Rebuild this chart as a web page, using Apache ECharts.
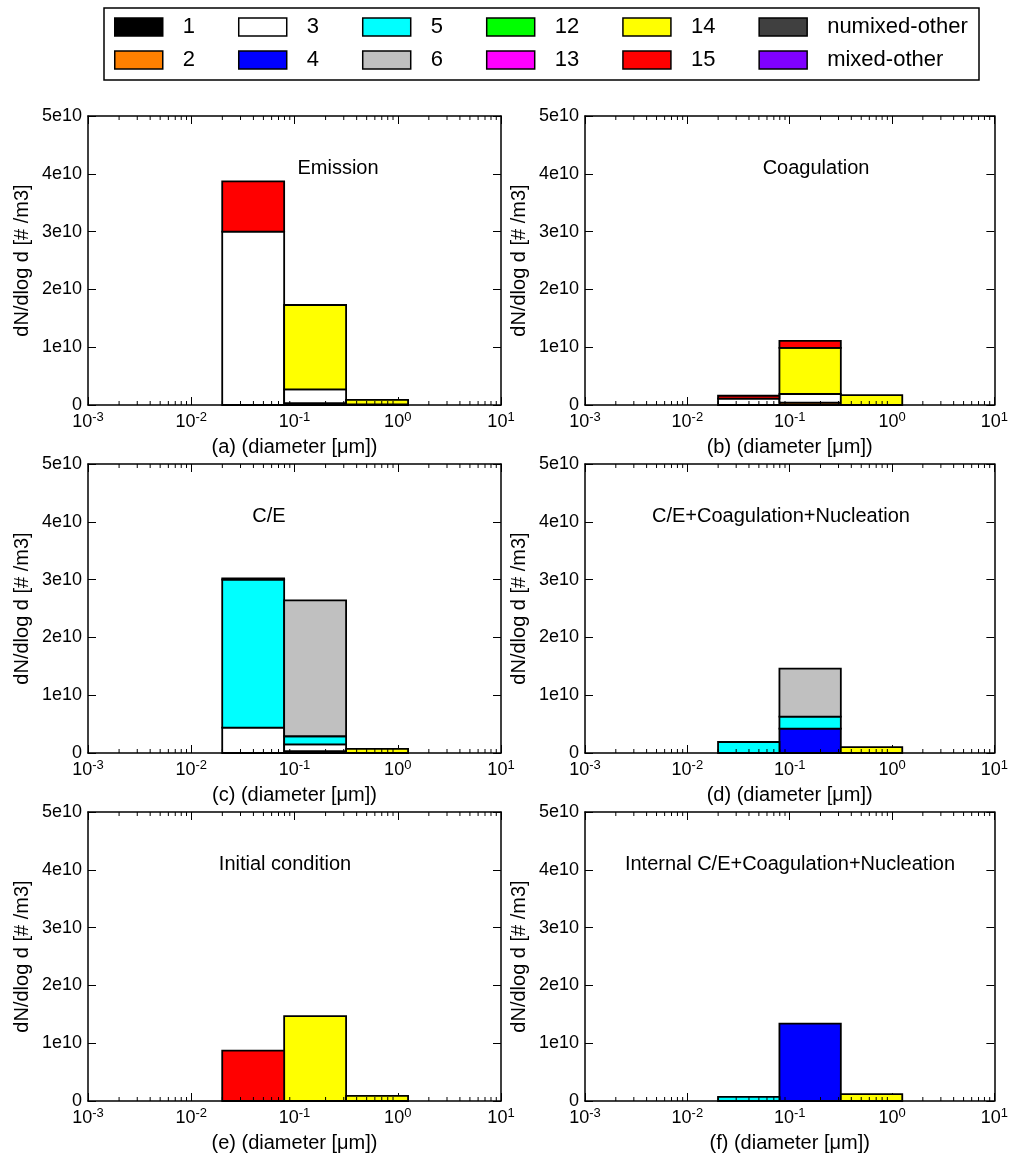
<!DOCTYPE html>
<html>
<head>
<meta charset="utf-8">
<script src="https://cdn.jsdelivr.net/npm/echarts@6/dist/echarts.min.js"></script>
<style>html,body{margin:0;padding:0;background:#fff;}#c{width:1011px;height:1160px;}</style>
</head>
<body>
<div id="c"></div>
<script>
// ---- data ----
const binEdges = [0.01995, 0.0794, 0.316, 1.259];           // diameter bin edges [μm]
const speciesNames = ['1','2','3','4','5','6','12','13','14','15','numixed-other','mixed-other'];
const speciesColors = ['#000000','#ff8000','#ffffff','#0000ff','#00ffff','#c0c0c0','#00ff00','#ff00ff','#ffff00','#ff0000','#404040','#8000ff'];
const legendRow1 = ['1','3','5','12','14','numixed-other'];
const legendRow2 = ['2','4','6','13','15','mixed-other'];
const yTicks = [0, 1e10, 2e10, 3e10, 4e10, 5e10];
const panelTitles = ['Emission','Coagulation','C/E','C/E+Coagulation+Nucleation','Initial condition','Internal C/E+Coagulation+Nucleation'];
const panelXNames = ['(a) (diameter [μm])','(b) (diameter [μm])','(c) (diameter [μm])','(d) (diameter [μm])','(e) (diameter [μm])','(f) (diameter [μm])'];
// values per species per bin, in units of 1e10 #/m3
const emission    = {'1':[0,0.03,0], '3':[3.0,0.24,0.01], '14':[0,1.46,0.08], '15':[0.87,0,0]};
const coagulation = {'2':[0,0.04,0], '3':[0.11,0.15,0], '14':[0,0.80,0.17], '15':[0.05,0.12,0]};
const ce          = {'1':[0,0.03,0], '3':[0.44,0.12,0], '5':[2.56,0.14,0], '6':[0.02,2.35,0], '14':[0,0,0.07]};
const ceCoagNuc   = {'4':[0,0.42,0], '5':[0.19,0.21,0], '6':[0,0.83,0], '14':[0,0,0.10]};
const initial     = {'14':[0,1.47,0.09], '15':[0.87,0,0]};
const internalCE  = {'4':[0,1.34,0], '5':[0.07,0,0], '14':[0,0,0.12]};
const panelData = [emission, coagulation, ce, ceCoagNuc, initial, internalCE];

// ---- layout ----
const FONT = 'Liberation Sans, Arial, sans-serif';
const gridPos = [
  {left:88, top:116}, {left:585, top:116},
  {left:88, top:464}, {left:585, top:464},
  {left:88, top:812}, {left:585, top:812}
];
const titlePos = [[338,168],[816,168],[269,516],[781,516],[285,864],[790,864]];
const GW = 413, GH = 289;

const chart = echarts.init(document.getElementById('c'));

const minorVals = [];
[0.001,0.01,0.1,1].forEach(d => { for (let k = 2; k <= 9; k++) minorVals.push(+(k*d).toPrecision(3)); });

function rectItem(params, api) {
  const p0 = api.coord([api.value(0), api.value(2)]);
  const p1 = api.coord([api.value(1), api.value(3)]);
  return {type:'rect', shape:{x:p0[0], y:p1[1], width:p1[0]-p0[0], height:p0[1]-p1[1]},
          style:{fill: api.visual('color'), stroke:'#000', lineWidth:1.8}};
}
function minorItem(params, api) {
  const b = api.coord([api.value(0), 0]);
  const t = api.coord([api.value(0), 5e10]);
  return {type:'group', children:[
    {type:'line', shape:{x1:b[0], y1:b[1], x2:b[0], y2:b[1]-4}, style:{stroke:'#000', lineWidth:1}},
    {type:'line', shape:{x1:t[0], y1:t[1], x2:t[0], y2:t[1]+4}, style:{stroke:'#000', lineWidth:1}}
  ]};
}

const grids = [], xAxes = [], yAxes = [], series = [], graphics = [];
gridPos.forEach((g, p) => {
  grids.push({left:g.left, top:g.top, width:GW, height:GH});
  const common = {type:'log', logBase:10, min:0.001, max:10, gridIndex:p,
    axisLine:{show:true, onZero:false, lineStyle:{color:'#000', width:1.5}},
    axisTick:{show:true, inside:true, length:8, lineStyle:{color:'#000', width:1}},
    splitLine:{show:false}, minorTick:{show:false}};
  xAxes.push(Object.assign({}, common, {position:'bottom',
    name: panelXNames[p], nameLocation:'middle', nameGap:32,
    nameTextStyle:{fontSize:20, color:'#000', fontFamily:FONT},
    axisLabel:{margin:6, color:'#000', fontFamily:FONT,
      formatter: v => '{b|10}{s|' + Math.round(Math.log10(v)) + '}',
      rich:{b:{fontSize:18, lineHeight:22, fontFamily:FONT, color:'#000'},
            s:{fontSize:13, lineHeight:13, verticalAlign:'top', fontFamily:FONT, color:'#000'}}}}));
  xAxes.push(Object.assign({}, common, {position:'top', axisLabel:{show:false}}));
  const ycommon = {type:'value', min:0, max:5e10, interval:1e10, gridIndex:p,
    axisLine:{show:true, onZero:false, lineStyle:{color:'#000', width:1.5}},
    axisTick:{show:true, inside:true, length:8, lineStyle:{color:'#000', width:1}},
    splitLine:{show:false}};
  yAxes.push(Object.assign({}, ycommon, {position:'left',
    name:'dN/dlog d [# /m3]', nameLocation:'middle', nameGap:56,
    nameTextStyle:{fontSize:20, color:'#000', fontFamily:FONT},
    axisLabel:{fontSize:18, color:'#000', fontFamily:FONT, margin:6,
      formatter: v => v === 0 ? '0' : (Math.round(v/1e10)) + 'e10'}}));
  yAxes.push(Object.assign({}, ycommon, {position:'right', axisLabel:{show:false}}));

  const cum = [0,0,0];
  speciesNames.forEach((s, si) => {
    const vals = panelData[p][s];
    const data = [];
    if (vals) {
      for (let b = 0; b < 3; b++) {
        if (vals[b] > 0) {
          data.push([binEdges[b], binEdges[b+1], cum[b]*1e10, (cum[b]+vals[b])*1e10]);
          cum[b] += vals[b];
        }
      }
    }
    if (vals || p === 0) {
      series.push({type:'custom', name:s, xAxisIndex:2*p, yAxisIndex:2*p, data,
        itemStyle:{color:speciesColors[si]}, renderItem:rectItem,
        encode:{x:[0,1], y:[2,3]}, silent:true, z:2});
    }
  });
  series.push({type:'custom', xAxisIndex:2*p, yAxisIndex:2*p, data:minorVals.map(v=>[v]),
    renderItem:minorItem, encode:{x:0}, silent:true, z:5});

  graphics.push({type:'text', x:titlePos[p][0], y:titlePos[p][1],
    style:{text:panelTitles[p], fontSize:20, fontFamily:FONT, fill:'#000', align:'center', verticalAlign:'middle'}});
});

graphics.push({type:'rect', shape:{x:104, y:8, width:875, height:72},
  style:{fill:'none', stroke:'#000', lineWidth:1.5}, z:-1});

const legendCommon = {left:114, itemGap:43, itemWidth:48, itemHeight:18, icon:'rect', selectedMode:false,
  padding:0, itemStyle:{borderColor:'#000', borderWidth:1.5},
  textStyle:{fontSize:22, fontFamily:FONT, color:'#000', padding:[0,0,0,15]}};

chart.setOption({
  animation:false,
  backgroundColor:'#fff',
  textStyle:{fontFamily:FONT},
  legend:[Object.assign({}, legendCommon, {data:legendRow1, top:16}),
          Object.assign({}, legendCommon, {data:legendRow2, top:49})],
  grid:grids, xAxis:xAxes, yAxis:yAxes, series, graphic:graphics
});
</script>
</body>
</html>
